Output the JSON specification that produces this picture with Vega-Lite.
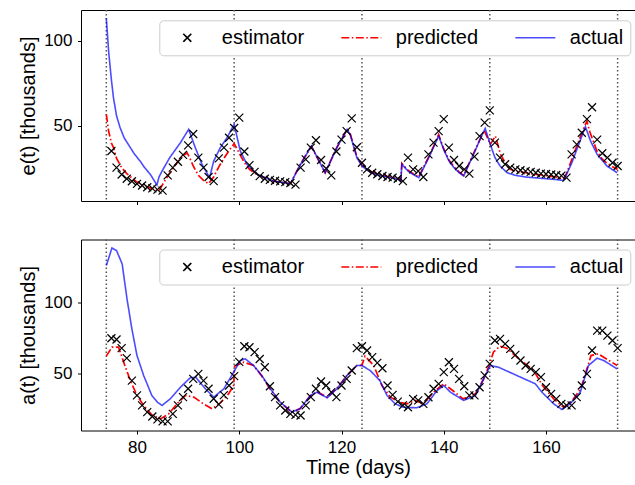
{
 "$schema": "https://vega.github.io/schema/vega-lite/v6.json",
 "padding": {"left": 17, "top": 9, "right": 0, "bottom": 0},
 "autosize": {"type": "pad"},
 "spacing": 33.5,
 "resolve": {"scale": {"color": "independent", "strokeDash": "independent", "shape": "independent"}, "legend": {"color": "independent", "strokeDash": "independent", "shape": "independent"}},
 "config": {
  "view": {"stroke": null},
  "font": "Liberation Sans",
  "axis": {"labelFont": "Liberation Sans", "labelFontSize": 17, "labelColor": "#000000", "titleFont": "Liberation Sans", "titleFontSize": 20, "titleFontWeight": "normal", "titleColor": "#000000", "domainColor": "#000000", "tickColor": "#000000", "tickSize": 3.5, "grid": false, "labelPadding": 5.5, "domainWidth": 1, "tickWidth": 1, "minExtent": 0},
  "legend": {"labelFont": "Liberation Sans", "labelFontSize": 20, "labelColor": "#000000", "labelOffset": 13.5, "symbolSize": 1600, "symbolStrokeWidth": 1.6, "fillColor": "#ffffff", "strokeColor": "#cccccc", "cornerRadius": 4, "padding": 7, "columnPadding": 36, "labelBaseline": "middle", "clipHeight": 21}
 },
 "datasets": {
  "vlines": [{"day": 74}, {"day": 99}, {"day": 124}, {"day": 149}, {"day": 174}],
  "e": [
   {"series":"estimator","day":75,"value":35.3},{"series":"estimator","day":76,"value":25.5},{"series":"estimator","day":77,"value":21.5},{"series":"estimator","day":78,"value":19},{"series":"estimator","day":79,"value":17.5},{"series":"estimator","day":80,"value":16},{"series":"estimator","day":81,"value":15},{"series":"estimator","day":82,"value":14},{"series":"estimator","day":83,"value":13.3},{"series":"estimator","day":84,"value":12.6},{"series":"estimator","day":85,"value":12},{"series":"estimator","day":86,"value":21},{"series":"estimator","day":87,"value":25.5},{"series":"estimator","day":88,"value":29},{"series":"estimator","day":89,"value":33},{"series":"estimator","day":90,"value":38.6},{"series":"estimator","day":91,"value":45.3},{"series":"estimator","day":92,"value":31.4},{"series":"estimator","day":93,"value":25.5},{"series":"estimator","day":94,"value":20},{"series":"estimator","day":95,"value":17.6},{"series":"estimator","day":96,"value":31},{"series":"estimator","day":97,"value":37.3},{"series":"estimator","day":98,"value":43.1},{"series":"estimator","day":99,"value":48.8},{"series":"estimator","day":100,"value":54.9},{"series":"estimator","day":101,"value":35},{"series":"estimator","day":102,"value":27},{"series":"estimator","day":103,"value":23},{"series":"estimator","day":104,"value":20.5},{"series":"estimator","day":105,"value":19},{"series":"estimator","day":106,"value":18.3},{"series":"estimator","day":107,"value":17.8},{"series":"estimator","day":108,"value":17.4},{"series":"estimator","day":109,"value":17},{"series":"estimator","day":110,"value":16.5},{"series":"estimator","day":111,"value":15.5},{"series":"estimator","day":112,"value":25.5},{"series":"estimator","day":113,"value":30.4},{"series":"estimator","day":114,"value":37.3},{"series":"estimator","day":115,"value":41.6},{"series":"estimator","day":116,"value":30},{"series":"estimator","day":117,"value":25},{"series":"estimator","day":118,"value":21},{"series":"estimator","day":119,"value":35},{"series":"estimator","day":120,"value":42},{"series":"estimator","day":121,"value":47},{"series":"estimator","day":122,"value":54.5},{"series":"estimator","day":123,"value":37.5},{"series":"estimator","day":124,"value":28.4},{"series":"estimator","day":125,"value":24.5},{"series":"estimator","day":126,"value":22.5},{"series":"estimator","day":127,"value":21.6},{"series":"estimator","day":128,"value":20.6},{"series":"estimator","day":129,"value":20},{"series":"estimator","day":130,"value":19.6},{"series":"estimator","day":131,"value":19},{"series":"estimator","day":132,"value":17.6},{"series":"estimator","day":133,"value":31.4},{"series":"estimator","day":134,"value":24.5},{"series":"estimator","day":135,"value":23.5},{"series":"estimator","day":136,"value":20},{"series":"estimator","day":137,"value":33.3},{"series":"estimator","day":138,"value":40.2},{"series":"estimator","day":139,"value":47},{"series":"estimator","day":140,"value":54},{"series":"estimator","day":141,"value":37.3},{"series":"estimator","day":142,"value":30},{"series":"estimator","day":143,"value":26.5},{"series":"estimator","day":144,"value":24.5},{"series":"estimator","day":145,"value":22},{"series":"estimator","day":146,"value":32},{"series":"estimator","day":147,"value":44},{"series":"estimator","day":148,"value":52},{"series":"estimator","day":149,"value":59.2},{"series":"estimator","day":150,"value":40.2},{"series":"estimator","day":151,"value":31.4},{"series":"estimator","day":152,"value":27.5},{"series":"estimator","day":153,"value":25.5},{"series":"estimator","day":154,"value":24.5},{"series":"estimator","day":155,"value":24},{"series":"estimator","day":156,"value":23.5},{"series":"estimator","day":157,"value":23},{"series":"estimator","day":158,"value":22.5},{"series":"estimator","day":159,"value":22},{"series":"estimator","day":160,"value":21.8},{"series":"estimator","day":161,"value":21.5},{"series":"estimator","day":162,"value":21.2},{"series":"estimator","day":163,"value":20.8},{"series":"estimator","day":164,"value":19.6},{"series":"estimator","day":165,"value":33.3},{"series":"estimator","day":166,"value":39.2},{"series":"estimator","day":167,"value":46},{"series":"estimator","day":168,"value":54},{"series":"estimator","day":169,"value":61},{"series":"estimator","day":170,"value":42},{"series":"estimator","day":171,"value":34},{"series":"estimator","day":172,"value":31.4},{"series":"estimator","day":173,"value":28.4},{"series":"estimator","day":174,"value":26.5},
   {"series":"predicted","day":74,"value":56.9},{"series":"predicted","day":74.45,"value":47},{"series":"predicted","day":75,"value":40},{"series":"predicted","day":75.4,"value":37.3},{"series":"predicted","day":76,"value":31},{"series":"predicted","day":77,"value":25.5},{"series":"predicted","day":78,"value":22},{"series":"predicted","day":79,"value":19.5},{"series":"predicted","day":80,"value":17},{"series":"predicted","day":81,"value":15.5},{"series":"predicted","day":82,"value":14.3},{"series":"predicted","day":83,"value":13.2},{"series":"predicted","day":84,"value":12},{"series":"predicted","day":84.3,"value":11.8},{"series":"predicted","day":85,"value":15.5},{"series":"predicted","day":86,"value":20.5},{"series":"predicted","day":87,"value":25},{"series":"predicted","day":88,"value":29},{"series":"predicted","day":89,"value":32.5},{"series":"predicted","day":89.8,"value":34.3},{"series":"predicted","day":90.5,"value":30},{"series":"predicted","day":91,"value":26.5},{"series":"predicted","day":92,"value":21},{"series":"predicted","day":93,"value":18},{"series":"predicted","day":94,"value":16.1},{"series":"predicted","day":95,"value":20},{"series":"predicted","day":96,"value":26},{"series":"predicted","day":97,"value":31},{"series":"predicted","day":98,"value":35.5},{"series":"predicted","day":99,"value":39.6},{"series":"predicted","day":100,"value":34},{"series":"predicted","day":101,"value":28.5},{"series":"predicted","day":102,"value":24.5},{"series":"predicted","day":103.5,"value":21.3},{"series":"predicted","day":106.7,"value":17.6},{"series":"predicted","day":110,"value":16.1},{"series":"predicted","day":112,"value":27.8},{"series":"predicted","day":114.1,"value":38},{"series":"predicted","day":116.8,"value":22.5},{"series":"predicted","day":119.1,"value":37.5},{"series":"predicted","day":121.1,"value":48},{"series":"predicted","day":121.7,"value":45.5},{"series":"predicted","day":123,"value":32},{"series":"predicted","day":124,"value":27},{"series":"predicted","day":125,"value":24.5},{"series":"predicted","day":126,"value":23},{"series":"predicted","day":127,"value":21.8},{"series":"predicted","day":128,"value":21},{"series":"predicted","day":129,"value":20.3},{"series":"predicted","day":130,"value":19.8},{"series":"predicted","day":131,"value":19.2},{"series":"predicted","day":131.6,"value":18.2},{"series":"predicted","day":131.8,"value":28},{"series":"predicted","day":133,"value":24},{"series":"predicted","day":134,"value":22},{"series":"predicted","day":135.1,"value":20},{"series":"predicted","day":136,"value":25.5},{"series":"predicted","day":137,"value":31.5},{"series":"predicted","day":138,"value":38},{"series":"predicted","day":139,"value":45},{"series":"predicted","day":140,"value":36.5},{"series":"predicted","day":141,"value":30},{"series":"predicted","day":142,"value":26},{"series":"predicted","day":143,"value":23},{"series":"predicted","day":143.9,"value":21},{"series":"predicted","day":145,"value":28.5},{"series":"predicted","day":146,"value":35},{"series":"predicted","day":147,"value":41.5},{"series":"predicted","day":147.9,"value":47.5},{"series":"predicted","day":149.1,"value":39.2},{"series":"predicted","day":150.1,"value":44.1},{"series":"predicted","day":151.1,"value":33.3},{"series":"predicted","day":152.4,"value":26.5},{"series":"predicted","day":153,"value":24.5},{"series":"predicted","day":154,"value":23.5},{"series":"predicted","day":155,"value":23},{"series":"predicted","day":156,"value":22.5},{"series":"predicted","day":157,"value":22},{"series":"predicted","day":158,"value":21.6},{"series":"predicted","day":159,"value":21.2},{"series":"predicted","day":160,"value":20.8},{"series":"predicted","day":161,"value":20.4},{"series":"predicted","day":162,"value":20},{"series":"predicted","day":163.4,"value":18.8},{"series":"predicted","day":164,"value":22},{"series":"predicted","day":165,"value":30},{"series":"predicted","day":166,"value":38},{"series":"predicted","day":167,"value":46},{"series":"predicted","day":168,"value":52.9},{"series":"predicted","day":168.5,"value":47},{"series":"predicted","day":169,"value":43},{"series":"predicted","day":170,"value":35},{"series":"predicted","day":171,"value":30.5},{"series":"predicted","day":172,"value":28},{"series":"predicted","day":173,"value":26},{"series":"predicted","day":174,"value":24.5},
   {"series":"actual","day":74,"value":113.4},{"series":"actual","day":74.45,"value":94},{"series":"actual","day":75,"value":77},{"series":"actual","day":75.4,"value":66.6},{"series":"actual","day":76,"value":56},{"series":"actual","day":76.7,"value":49},{"series":"actual","day":77.5,"value":43},{"series":"actual","day":78.7,"value":37.3},{"series":"actual","day":79.5,"value":33.5},{"series":"actual","day":80.6,"value":29.4},{"series":"actual","day":81.5,"value":25.5},{"series":"actual","day":82.6,"value":21.6},{"series":"actual","day":83.9,"value":15.3},{"series":"actual","day":84.3,"value":20},{"series":"actual","day":84.9,"value":23.5},{"series":"actual","day":86.4,"value":31.4},{"series":"actual","day":88.5,"value":40.2},{"series":"actual","day":90.1,"value":48},{"series":"actual","day":91.4,"value":37.3},{"series":"actual","day":92.7,"value":27.5},{"series":"actual","day":94.2,"value":19.6},{"series":"actual","day":95,"value":29.4},{"series":"actual","day":96.3,"value":37.3},{"series":"actual","day":97.6,"value":43.1},{"series":"actual","day":99,"value":51},{"series":"actual","day":100.2,"value":35.3},{"series":"actual","day":101.5,"value":27.5},{"series":"actual","day":103.5,"value":21.6},{"series":"actual","day":106.7,"value":17.6},{"series":"actual","day":110,"value":16.1},{"series":"actual","day":112,"value":27.5},{"series":"actual","day":114.1,"value":38.2},{"series":"actual","day":116.8,"value":22.5},{"series":"actual","day":119.1,"value":37.3},{"series":"actual","day":121.1,"value":48},{"series":"actual","day":121.7,"value":45},{"series":"actual","day":123,"value":31.4},{"series":"actual","day":124,"value":26.5},{"series":"actual","day":125,"value":24},{"series":"actual","day":126,"value":22.5},{"series":"actual","day":127,"value":21.3},{"series":"actual","day":128,"value":20.5},{"series":"actual","day":129,"value":20},{"series":"actual","day":130,"value":19.4},{"series":"actual","day":131,"value":18.8},{"series":"actual","day":131.6,"value":17.6},{"series":"actual","day":131.8,"value":27.5},{"series":"actual","day":133,"value":23.5},{"series":"actual","day":134,"value":21.5},{"series":"actual","day":135.1,"value":19.6},{"series":"actual","day":136,"value":25},{"series":"actual","day":137,"value":31},{"series":"actual","day":138,"value":37.5},{"series":"actual","day":139,"value":44.1},{"series":"actual","day":140,"value":36},{"series":"actual","day":141,"value":29.5},{"series":"actual","day":142,"value":25.5},{"series":"actual","day":143,"value":22.5},{"series":"actual","day":143.9,"value":20.6},{"series":"actual","day":145,"value":28},{"series":"actual","day":146,"value":34.5},{"series":"actual","day":147,"value":41.5},{"series":"actual","day":148.1,"value":48.6},{"series":"actual","day":149,"value":40},{"series":"actual","day":150,"value":31.5},{"series":"actual","day":151,"value":26.5},{"series":"actual","day":152.4,"value":22.5},{"series":"actual","day":154,"value":21},{"series":"actual","day":156,"value":20},{"series":"actual","day":158,"value":19.5},{"series":"actual","day":160,"value":19},{"series":"actual","day":162,"value":18.5},{"series":"actual","day":163.4,"value":18},{"series":"actual","day":164,"value":21.5},{"series":"actual","day":165,"value":28},{"series":"actual","day":166,"value":36},{"series":"actual","day":167,"value":44},{"series":"actual","day":167.7,"value":49.6},{"series":"actual","day":168.7,"value":41.2},{"series":"actual","day":170,"value":33.3},{"series":"actual","day":171.9,"value":26.5},{"series":"actual","day":173.9,"value":22.5}
  ],
  "a": [
   {"series":"estimator","day":75,"value":74.6},{"series":"estimator","day":76,"value":73.7},{"series":"estimator","day":77,"value":67.6},{"series":"estimator","day":78,"value":60.6},{"series":"estimator","day":79,"value":44.8},{"series":"estimator","day":80,"value":34.3},{"series":"estimator","day":81,"value":27.3},{"series":"estimator","day":82,"value":22.5},{"series":"estimator","day":83,"value":19.5},{"series":"estimator","day":84,"value":17.4},{"series":"estimator","day":85,"value":16},{"series":"estimator","day":86,"value":16},{"series":"estimator","day":87,"value":21.3},{"series":"estimator","day":88,"value":27.3},{"series":"estimator","day":89,"value":33.1},{"series":"estimator","day":90,"value":39},{"series":"estimator","day":91,"value":46},{"series":"estimator","day":92,"value":49.5},{"series":"estimator","day":93,"value":44.8},{"series":"estimator","day":94,"value":39},{"series":"estimator","day":95,"value":32},{"series":"estimator","day":96,"value":28},{"series":"estimator","day":97,"value":34.5},{"series":"estimator","day":98,"value":41.3},{"series":"estimator","day":99,"value":47.9},{"series":"estimator","day":100,"value":58},{"series":"estimator","day":101,"value":69},{"series":"estimator","day":102,"value":68.3},{"series":"estimator","day":103,"value":64.8},{"series":"estimator","day":104,"value":60},{"series":"estimator","day":105,"value":54.2},{"series":"estimator","day":106,"value":40.8},{"series":"estimator","day":107,"value":33.1},{"series":"estimator","day":108,"value":27.3},{"series":"estimator","day":109,"value":23.7},{"series":"estimator","day":110,"value":21.3},{"series":"estimator","day":111,"value":20.6},{"series":"estimator","day":112,"value":20.2},{"series":"estimator","day":113,"value":27.3},{"series":"estimator","day":114,"value":33.1},{"series":"estimator","day":115,"value":39},{"series":"estimator","day":116,"value":44.1},{"series":"estimator","day":117,"value":41.3},{"series":"estimator","day":118,"value":36.6},{"series":"estimator","day":119,"value":33.1},{"series":"estimator","day":120,"value":41.3},{"series":"estimator","day":121,"value":46},{"series":"estimator","day":122,"value":51.9},{"series":"estimator","day":123,"value":67.6},{"series":"estimator","day":124,"value":69},{"series":"estimator","day":125,"value":66},{"series":"estimator","day":126,"value":61.3},{"series":"estimator","day":127,"value":57.3},{"series":"estimator","day":128,"value":53.5},{"series":"estimator","day":129,"value":41.3},{"series":"estimator","day":130,"value":34.7},{"series":"estimator","day":131,"value":30},{"series":"estimator","day":132,"value":27.3},{"series":"estimator","day":133,"value":26},{"series":"estimator","day":134,"value":31.9},{"series":"estimator","day":135,"value":30.8},{"series":"estimator","day":136,"value":28.4},{"series":"estimator","day":137,"value":33},{"series":"estimator","day":138,"value":39},{"series":"estimator","day":139,"value":42.5},{"series":"estimator","day":140,"value":50.7},{"series":"estimator","day":141,"value":57.7},{"series":"estimator","day":142,"value":53},{"series":"estimator","day":143,"value":46},{"series":"estimator","day":144,"value":40.8},{"series":"estimator","day":145,"value":34.3},{"series":"estimator","day":146,"value":34.3},{"series":"estimator","day":147,"value":40.1},{"series":"estimator","day":148,"value":48.4},{"series":"estimator","day":149,"value":56.6},{"series":"estimator","day":150,"value":73},{"series":"estimator","day":151,"value":74.2},{"series":"estimator","day":152,"value":70.6},{"series":"estimator","day":153,"value":67.1},{"series":"estimator","day":154,"value":62.9},{"series":"estimator","day":155,"value":58.9},{"series":"estimator","day":156,"value":55.4},{"series":"estimator","day":157,"value":53},{"series":"estimator","day":158,"value":50.7},{"series":"estimator","day":159,"value":47.2},{"series":"estimator","day":160,"value":40.1},{"series":"estimator","day":161,"value":35.4},{"series":"estimator","day":162,"value":31.9},{"series":"estimator","day":163,"value":28.4},{"series":"estimator","day":164,"value":27.3},{"series":"estimator","day":165,"value":27.3},{"series":"estimator","day":166,"value":33.1},{"series":"estimator","day":167,"value":41.3},{"series":"estimator","day":168,"value":49.5},{"series":"estimator","day":169,"value":66},{"series":"estimator","day":170,"value":80},{"series":"estimator","day":171,"value":80},{"series":"estimator","day":172,"value":76.5},{"series":"estimator","day":173,"value":73},{"series":"estimator","day":174,"value":67.6},
   {"series":"predicted","day":74,"value":62},{"series":"predicted","day":75.1,"value":68.3},{"series":"predicted","day":76.4,"value":68.3},{"series":"predicted","day":77.4,"value":57.7},{"series":"predicted","day":78.7,"value":44.8},{"series":"predicted","day":80,"value":34.3},{"series":"predicted","day":81.3,"value":27.3},{"series":"predicted","day":82.9,"value":20.6},{"series":"predicted","day":84.6,"value":17.8},{"series":"predicted","day":86.2,"value":21.3},{"series":"predicted","day":87.8,"value":28.4},{"series":"predicted","day":89.5,"value":34.3},{"series":"predicted","day":91.1,"value":33.1},{"series":"predicted","day":93,"value":28.4},{"series":"predicted","day":94.7,"value":24.9},{"series":"predicted","day":96.3,"value":29.1},{"series":"predicted","day":97.9,"value":35.4},{"series":"predicted","day":98.9,"value":41.3},{"series":"predicted","day":99.1,"value":55},{"series":"predicted","day":100.9,"value":57.7},{"series":"predicted","day":102.8,"value":55.4},{"series":"predicted","day":104.4,"value":48},{"series":"predicted","day":106.1,"value":38.5},{"series":"predicted","day":108,"value":29.5},{"series":"predicted","day":110.3,"value":22.5},{"series":"predicted","day":111.9,"value":25},{"series":"predicted","day":113.9,"value":34},{"series":"predicted","day":115.2,"value":37},{"series":"predicted","day":117.2,"value":33},{"series":"predicted","day":119.1,"value":39.5},{"series":"predicted","day":121.1,"value":48.5},{"series":"predicted","day":123,"value":55.4},{"series":"predicted","day":124,"value":55.6},{"series":"predicted","day":124.6,"value":62},{"series":"predicted","day":126.3,"value":55.4},{"series":"predicted","day":127.9,"value":41.3},{"series":"predicted","day":129.6,"value":33.1},{"series":"predicted","day":131.2,"value":29.6},{"series":"predicted","day":132.8,"value":28.4},{"series":"predicted","day":134.4,"value":30.8},{"series":"predicted","day":136,"value":28.5},{"series":"predicted","day":138,"value":36.6},{"series":"predicted","day":140,"value":42.5},{"series":"predicted","day":141.3,"value":39},{"series":"predicted","day":143.8,"value":31.9},{"series":"predicted","day":146.2,"value":35.4},{"series":"predicted","day":147.8,"value":46},{"series":"predicted","day":149,"value":56.6},{"series":"predicted","day":149.7,"value":64.8},{"series":"predicted","day":151,"value":69},{"series":"predicted","day":152.3,"value":67.6},{"series":"predicted","day":154.3,"value":61.3},{"series":"predicted","day":157.6,"value":51.9},{"series":"predicted","day":159.3,"value":41.3},{"series":"predicted","day":161.5,"value":31.9},{"series":"predicted","day":163.4,"value":26},{"series":"predicted","day":164.9,"value":29.6},{"series":"predicted","day":166.8,"value":39},{"series":"predicted","day":168.8,"value":62.4},{"series":"predicted","day":170.2,"value":63.6},{"series":"predicted","day":173.9,"value":55.4},
   {"series":"actual","day":74,"value":125.8},{"series":"actual","day":75.1,"value":138.2},{"series":"actual","day":76,"value":136.4},{"series":"actual","day":77.1,"value":127},{"series":"actual","day":78.05,"value":102.3},{"series":"actual","day":79,"value":81.2},{"series":"actual","day":80,"value":62.4},{"series":"actual","day":81.3,"value":48.4},{"series":"actual","day":82.9,"value":34.3},{"series":"actual","day":84,"value":29.5},{"series":"actual","day":84.9,"value":27.3},{"series":"actual","day":86.5,"value":31.9},{"series":"actual","day":88.5,"value":40.1},{"series":"actual","day":90.4,"value":46.7},{"series":"actual","day":91.5,"value":47},{"series":"actual","day":93.4,"value":39},{"series":"actual","day":95,"value":33.1},{"series":"actual","day":97,"value":39},{"series":"actual","day":98.9,"value":50.7},{"series":"actual","day":100.2,"value":58.9},{"series":"actual","day":101.2,"value":60},{"series":"actual","day":102.8,"value":55.4},{"series":"actual","day":104.4,"value":48.4},{"series":"actual","day":106.1,"value":39},{"series":"actual","day":108,"value":29.6},{"series":"actual","day":110.3,"value":22.5},{"series":"actual","day":111.9,"value":24.9},{"series":"actual","day":113.9,"value":34.3},{"series":"actual","day":115.2,"value":36.6},{"series":"actual","day":117.2,"value":32.6},{"series":"actual","day":119.1,"value":39},{"series":"actual","day":121.1,"value":48.4},{"series":"actual","day":123,"value":55.4},{"series":"actual","day":124,"value":55.4},{"series":"actual","day":125.6,"value":51.9},{"series":"actual","day":127.5,"value":44.8},{"series":"actual","day":128.9,"value":34.3},{"series":"actual","day":130.5,"value":28.4},{"series":"actual","day":132.1,"value":26},{"series":"actual","day":134.7,"value":25.6},{"series":"actual","day":136.7,"value":28.4},{"series":"actual","day":138.7,"value":37.8},{"series":"actual","day":140,"value":41.3},{"series":"actual","day":141.3,"value":36.6},{"series":"actual","day":143.9,"value":30.8},{"series":"actual","day":146.2,"value":34.3},{"series":"actual","day":147.8,"value":46},{"series":"actual","day":149.1,"value":55.4},{"series":"actual","day":150.7,"value":54.2},{"series":"actual","day":157.9,"value":42.5},{"series":"actual","day":159.2,"value":36.6},{"series":"actual","day":161.5,"value":28.4},{"series":"actual","day":163.1,"value":24.4},{"series":"actual","day":164.7,"value":28.4},{"series":"actual","day":166.7,"value":36.6},{"series":"actual","day":168.3,"value":55.4},{"series":"actual","day":170,"value":60.6},{"series":"actual","day":171.3,"value":58.9},{"series":"actual","day":173.9,"value":53}
  ]
 },
 "vconcat": [
  {
   "width": 554, "height": 191,
   "data": {"name": "e"},
   "resolve": {"axis": {"x": "independent"}},
   "layer": [
    {"data": {"name": "vlines"}, "mark": {"type": "rule", "color": "#555555", "strokeDash": [1.5, 2.5], "strokeWidth": 1.5},
     "encoding": {"x": {"field": "day", "type": "quantitative", "scale": {"domain": [69.05, 177.4], "nice": false, "zero": false}, "axis": {"orient": "top", "labels": false, "ticks": false, "domain": true, "title": null}}}},
    {"transform": [{"filter": "datum.series === 'predicted'"}], "mark": {"type": "line", "strokeWidth": 1.7},
     "encoding": {
      "x": {"field": "day", "type": "quantitative", "scale": {"domain": [69.05, 177.4], "nice": false, "zero": false}, "axis": {"orient": "bottom", "values": [80, 100, 120, 140, 160], "labels": false, "title": null}},
      "y": {"field": "value", "type": "quantitative", "scale": {"domain": [5.9, 118.2], "nice": false, "zero": false}, "axis": {"values": [50, 100], "title": "e(t) [thousands]", "titleX": -53, "titleBaseline": "middle", "titleAngle": -90}},
      "color": {"field": "series", "type": "nominal", "scale": {"domain": ["estimator", "predicted", "actual"], "range": ["#000000", "#ff0000", "#0000ff"]}, "legend": {"title": null, "orient": "none", "legendX": 78.3, "legendY": 10.3, "direction": "horizontal", "columns": 3, "encode": {"symbols": {"update": {"opacity": {"signal": "datum.value === 'actual' ? 0.7 : 1"}}}}}},
      "strokeDash": {"field": "series", "type": "nominal", "scale": {"domain": ["estimator", "predicted", "actual"], "range": [[1, 0], [8, 2.5, 1.5, 2.5], [1, 0]]}, "legend": {"title": null, "orient": "none", "legendX": 78.3, "legendY": 10.3, "direction": "horizontal", "columns": 3, "encode": {"symbols": {"update": {"opacity": {"signal": "datum.value === 'actual' ? 0.7 : 1"}}}}}}
     }},
    {"transform": [{"filter": "datum.series === 'actual'"}], "mark": {"type": "line", "strokeWidth": 1.6, "opacity": 0.7},
     "encoding": {
      "x": {"field": "day", "type": "quantitative", "scale": {"domain": [69.05, 177.4], "nice": false, "zero": false}, "axis": null},
      "y": {"field": "value", "type": "quantitative", "scale": {"domain": [5.9, 118.2], "nice": false, "zero": false}, "axis": {"values": [50, 100], "title": "e(t) [thousands]", "titleX": -53, "titleBaseline": "middle", "titleAngle": -90}},
      "color": {"field": "series", "type": "nominal", "scale": {"domain": ["estimator", "predicted", "actual"], "range": ["#000000", "#ff0000", "#0000ff"]}, "legend": {"title": null, "orient": "none", "legendX": 78.3, "legendY": 10.3, "direction": "horizontal", "columns": 3, "encode": {"symbols": {"update": {"opacity": {"signal": "datum.value === 'actual' ? 0.7 : 1"}}}}}},
      "strokeDash": {"field": "series", "type": "nominal", "scale": {"domain": ["estimator", "predicted", "actual"], "range": [[1, 0], [8, 2.5, 1.5, 2.5], [1, 0]]}, "legend": {"title": null, "orient": "none", "legendX": 78.3, "legendY": 10.3, "direction": "horizontal", "columns": 3, "encode": {"symbols": {"update": {"opacity": {"signal": "datum.value === 'actual' ? 0.7 : 1"}}}}}}
     }},
    {"transform": [{"filter": "datum.series === 'estimator'"}], "mark": {"type": "point", "filled": false, "size": 1600, "strokeWidth": 1.2, "opacity": 1},
     "encoding": {
      "x": {"field": "day", "type": "quantitative", "scale": {"domain": [69.05, 177.4], "nice": false, "zero": false}, "axis": null},
      "y": {"field": "value", "type": "quantitative", "scale": {"domain": [5.9, 118.2], "nice": false, "zero": false}, "axis": {"values": [50, 100], "title": "e(t) [thousands]", "titleX": -53, "titleBaseline": "middle", "titleAngle": -90}},
      "color": {"field": "series", "type": "nominal", "scale": {"domain": ["estimator", "predicted", "actual"], "range": ["#000000", "#ff0000", "#0000ff"]}, "legend": {"title": null, "orient": "none", "legendX": 78.3, "legendY": 10.3, "direction": "horizontal", "columns": 3, "encode": {"symbols": {"update": {"opacity": {"signal": "datum.value === 'actual' ? 0.7 : 1"}}}}}},
      "shape": {"field": "series", "type": "nominal", "scale": {"domain": ["estimator", "predicted", "actual"], "range": ["M-0.2,-0.2L0.2,0.2M-0.2,0.2L0.2,-0.2", "stroke", "stroke"]}, "legend": {"title": null, "orient": "none", "legendX": 78.3, "legendY": 10.3, "direction": "horizontal", "columns": 3, "encode": {"symbols": {"update": {"opacity": {"signal": "datum.value === 'actual' ? 0.7 : 1"}}}}}}
     }}
   ]
  },
  {
   "width": 554, "height": 191,
   "data": {"name": "a"},
   "resolve": {"axis": {"x": "independent"}},
   "layer": [
    {"data": {"name": "vlines"}, "mark": {"type": "rule", "color": "#555555", "strokeDash": [1.5, 2.5], "strokeWidth": 1.5},
     "encoding": {"x": {"field": "day", "type": "quantitative", "scale": {"domain": [69.05, 177.4], "nice": false, "zero": false}, "axis": {"orient": "top", "labels": false, "ticks": false, "domain": true, "title": null}}}},
    {"transform": [{"filter": "datum.series === 'predicted'"}], "mark": {"type": "line", "strokeWidth": 1.7},
     "encoding": {
      "x": {"field": "day", "type": "quantitative", "scale": {"domain": [69.05, 177.4], "nice": false, "zero": false}, "axis": {"orient": "bottom", "values": [80, 100, 120, 140, 160], "title": "Time (days)", "titlePadding": 2}},
      "y": {"field": "value", "type": "quantitative", "scale": {"domain": [9.6, 144.2], "nice": false, "zero": false}, "axis": {"values": [50, 100], "title": "a(t) [thousands]", "titleX": -53, "titleBaseline": "middle", "titleAngle": -90}},
      "color": {"field": "series", "type": "nominal", "scale": {"domain": ["estimator", "predicted", "actual"], "range": ["#000000", "#ff0000", "#0000ff"]}, "legend": {"title": null, "orient": "none", "legendX": 78.3, "legendY": 10, "direction": "horizontal", "columns": 3, "encode": {"symbols": {"update": {"opacity": {"signal": "datum.value === 'actual' ? 0.7 : 1"}}}}}},
      "strokeDash": {"field": "series", "type": "nominal", "scale": {"domain": ["estimator", "predicted", "actual"], "range": [[1, 0], [8, 2.5, 1.5, 2.5], [1, 0]]}, "legend": {"title": null, "orient": "none", "legendX": 78.3, "legendY": 10, "direction": "horizontal", "columns": 3, "encode": {"symbols": {"update": {"opacity": {"signal": "datum.value === 'actual' ? 0.7 : 1"}}}}}}
     }},
    {"transform": [{"filter": "datum.series === 'actual'"}], "mark": {"type": "line", "strokeWidth": 1.6, "opacity": 0.7},
     "encoding": {
      "x": {"field": "day", "type": "quantitative", "scale": {"domain": [69.05, 177.4], "nice": false, "zero": false}, "axis": null},
      "y": {"field": "value", "type": "quantitative", "scale": {"domain": [9.6, 144.2], "nice": false, "zero": false}, "axis": {"values": [50, 100], "title": "a(t) [thousands]", "titleX": -53, "titleBaseline": "middle", "titleAngle": -90}},
      "color": {"field": "series", "type": "nominal", "scale": {"domain": ["estimator", "predicted", "actual"], "range": ["#000000", "#ff0000", "#0000ff"]}, "legend": {"title": null, "orient": "none", "legendX": 78.3, "legendY": 10, "direction": "horizontal", "columns": 3, "encode": {"symbols": {"update": {"opacity": {"signal": "datum.value === 'actual' ? 0.7 : 1"}}}}}},
      "strokeDash": {"field": "series", "type": "nominal", "scale": {"domain": ["estimator", "predicted", "actual"], "range": [[1, 0], [8, 2.5, 1.5, 2.5], [1, 0]]}, "legend": {"title": null, "orient": "none", "legendX": 78.3, "legendY": 10, "direction": "horizontal", "columns": 3, "encode": {"symbols": {"update": {"opacity": {"signal": "datum.value === 'actual' ? 0.7 : 1"}}}}}}
     }},
    {"transform": [{"filter": "datum.series === 'estimator'"}], "mark": {"type": "point", "filled": false, "size": 1600, "strokeWidth": 1.2, "opacity": 1},
     "encoding": {
      "x": {"field": "day", "type": "quantitative", "scale": {"domain": [69.05, 177.4], "nice": false, "zero": false}, "axis": null},
      "y": {"field": "value", "type": "quantitative", "scale": {"domain": [9.6, 144.2], "nice": false, "zero": false}, "axis": {"values": [50, 100], "title": "a(t) [thousands]", "titleX": -53, "titleBaseline": "middle", "titleAngle": -90}},
      "color": {"field": "series", "type": "nominal", "scale": {"domain": ["estimator", "predicted", "actual"], "range": ["#000000", "#ff0000", "#0000ff"]}, "legend": {"title": null, "orient": "none", "legendX": 78.3, "legendY": 10, "direction": "horizontal", "columns": 3, "encode": {"symbols": {"update": {"opacity": {"signal": "datum.value === 'actual' ? 0.7 : 1"}}}}}},
      "shape": {"field": "series", "type": "nominal", "scale": {"domain": ["estimator", "predicted", "actual"], "range": ["M-0.2,-0.2L0.2,0.2M-0.2,0.2L0.2,-0.2", "stroke", "stroke"]}, "legend": {"title": null, "orient": "none", "legendX": 78.3, "legendY": 10, "direction": "horizontal", "columns": 3, "encode": {"symbols": {"update": {"opacity": {"signal": "datum.value === 'actual' ? 0.7 : 1"}}}}}}
     }}
   ]
  }
 ]
}
